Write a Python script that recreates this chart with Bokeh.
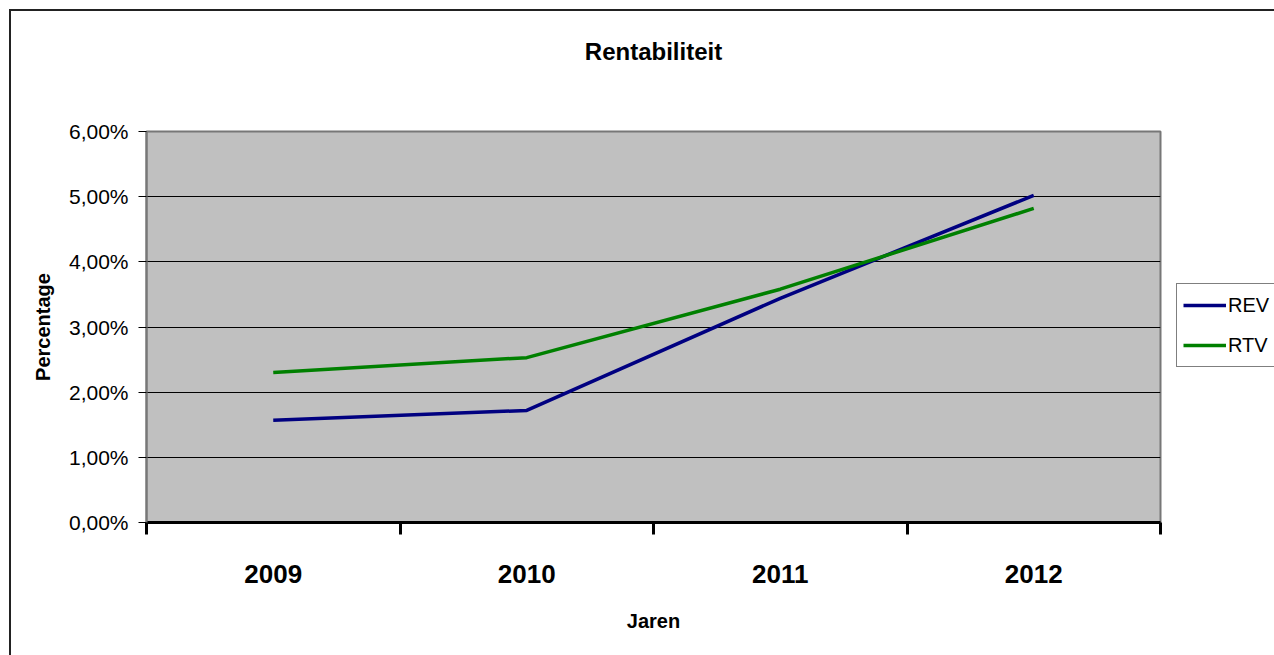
from bokeh.plotting import figure
from bokeh.models import (Range1d, FixedTicker, Legend, LegendItem, Title, LinearAxis, Row)
from bokeh.embed import file_html
from bokeh.resources import INLINE

years = ["2009", "2010", "2011", "2012"]
rev = [1.57, 1.72, 3.44, 5.02]
rtv = [2.30, 2.53, 3.58, 4.82]
y_ticks = [0, 1, 2, 3, 4, 5, 6]
y_tick_labels = ["0,00%", "1,00%", "2,00%", "3,00%", "4,00%", "5,00%", "6,00%"]
series_names = ["REV", "RTV"]
series_colors = ["#000080", "#008000"]

FONT = "Liberation Sans"

xpos = [i + 0.5 for i in range(len(years))]

p = figure(width=1159, height=644, output_backend="svg", toolbar_location=None,
           x_range=Range1d(0, len(years)), y_range=Range1d(0, 6),
           min_border_left=135, min_border_right=10, min_border_top=120,
           min_border_bottom=133, x_axis_location=None, y_axis_location=None)

p.background_fill_color = "#C0C0C0"
p.border_fill_color = "white"
p.outline_line_color = "#777777"
p.outline_line_width = 2

# spacer between frame and title, then the title itself
spacer = Title(text=" ", text_font_size="1px", standoff=64)
p.add_layout(spacer, "above")
t = Title(text="Rentabiliteit", align="center", text_font=FONT,
          text_font_size="24px", text_font_style="bold", text_color="black",
          vertical_align="bottom", standoff=0)
p.add_layout(t, "above")

# y axis
yax = LinearAxis(ticker=FixedTicker(ticks=y_ticks),
                 major_label_overrides={v: s for v, s in zip(y_ticks, y_tick_labels)},
                 axis_label="Percentage", axis_label_text_font=FONT,
                 axis_label_text_font_size="20px", axis_label_text_font_style="bold",
                 axis_label_text_color="black", axis_label_standoff=12,
                 major_label_text_font=FONT, major_label_text_font_size="21px",
                 major_label_text_color="black", major_label_standoff=10,
                 major_tick_in=0, major_tick_out=8, major_tick_line_color="black",
                 minor_tick_line_color=None, axis_line_color="#777777",
                 axis_line_width=2)
p.add_layout(yax, "left")

# x axis: labels centred in categories, ticks at category boundaries
xax = LinearAxis(ticker=FixedTicker(ticks=xpos, minor_ticks=list(range(len(years) + 1))),
                 major_label_overrides={x: y for x, y in zip(xpos, years)},
                 axis_label="Jaren", axis_label_text_font=FONT,
                 axis_label_text_font_size="20px", axis_label_text_font_style="bold",
                 axis_label_text_color="black", axis_label_standoff=24,
                 major_label_text_font=FONT, major_label_text_font_size="26px",
                 major_label_text_font_style="bold", major_label_text_color="black",
                 major_label_standoff=30,
                 major_tick_line_color=None,
                 minor_tick_in=0, minor_tick_out=12, minor_tick_line_color="black",
                 minor_tick_line_width=3,
                 axis_line_color="black", axis_line_width=3)
p.add_layout(xax, "below")

p.xgrid.grid_line_color = None
p.ygrid.ticker = FixedTicker(ticks=y_ticks)
p.ygrid.grid_line_color = "black"
p.ygrid.grid_line_width = 1

p.line(xpos, rev, line_color=series_colors[0], line_width=3.5)
p.line(xpos, rtv, line_color=series_colors[1], line_width=3.5)

# legend panel (separate small figure to the right of the plot area);
# its series copies lie outside its ranges, so only the legend shows
pl = figure(width=104, height=644, output_backend="svg", toolbar_location=None,
            x_range=Range1d(-20, -10), y_range=Range1d(-20, -10),
            min_border=0, x_axis_location=None, y_axis_location=None)
pl.outline_line_color = None
pl.background_fill_color = "white"
pl.border_fill_color = "white"
pl.grid.grid_line_color = None
items = []
for name, col, vals in zip(series_names, series_colors, [rev, rtv]):
    r = pl.line(xpos, vals, line_color=col, line_width=3.5)
    items.append(LegendItem(label=name, renderers=[r]))

legend = Legend(items=items, location=(6, 155), orientation="vertical",
                label_text_font=FONT, label_text_font_size="20px",
                label_text_color="black", label_standoff=2,
                glyph_width=43, glyph_height=30, spacing=10,
                padding=6, margin=0,
                border_line_color="black", border_line_width=1,
                background_fill_color="white", background_fill_alpha=1)
pl.add_layout(legend, "center")

layout = Row(children=[p, pl], spacing=0,
             styles={"margin-left": "9px", "margin-top": "9px",
                     "border-left": "2px solid #222", "border-top": "2px solid #222"})

open("out.html", "w").write(file_html(layout, INLINE))
